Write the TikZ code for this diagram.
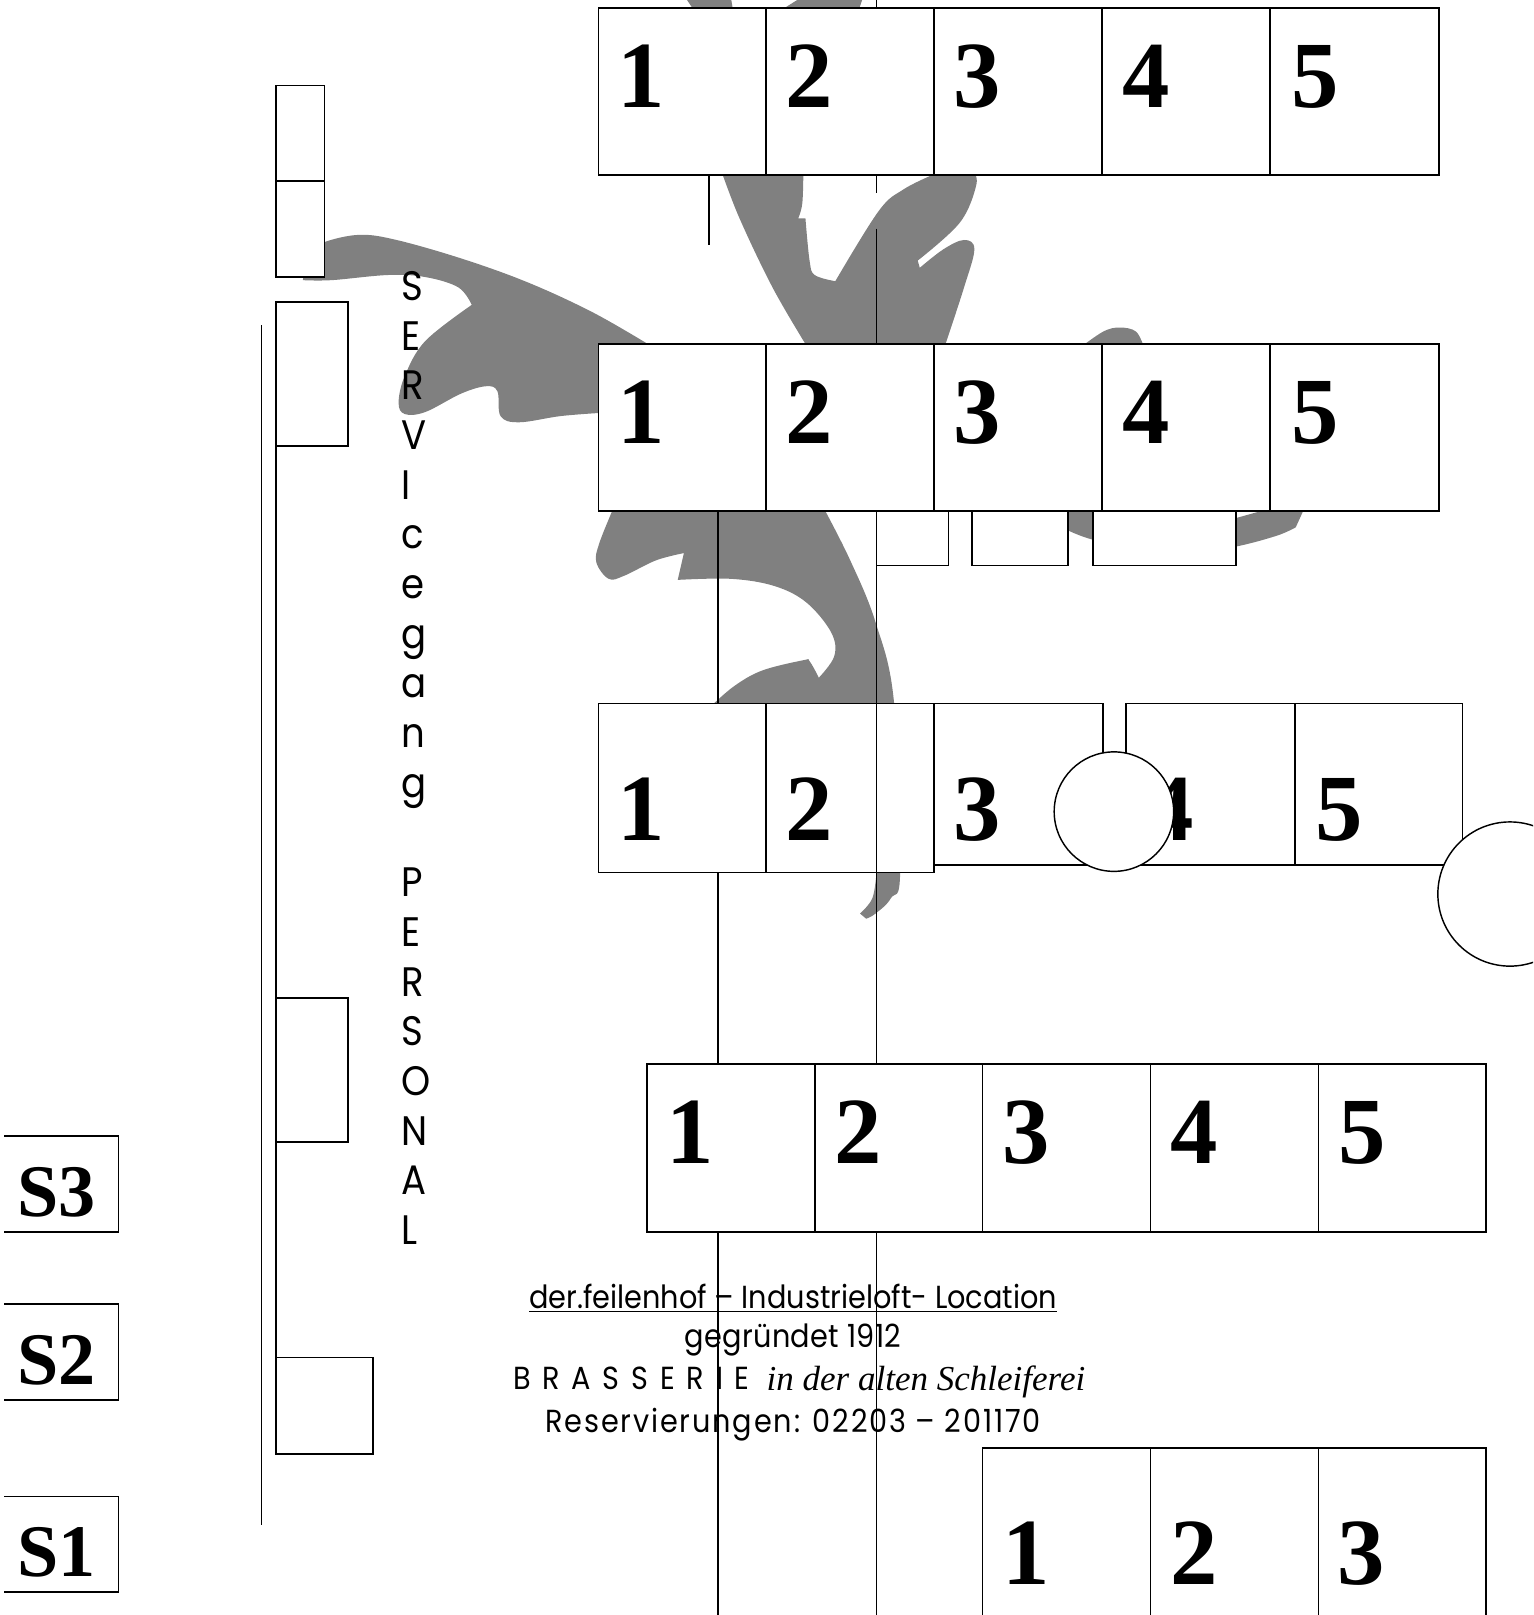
\documentclass[tikz,border=0pt]{standalone}
\usepackage{fontspec}
\setmainfont{Liberation Serif}
\newfontfamily\fut[FakeStretch=0.9]{Poppins}
\tikzset{
  cellbox/.style={draw=black,fill=white,line width=0.85pt,inner sep=0pt,outer sep=0pt},
  openbox/.style={fill=white,inner sep=0pt,outer sep=0pt},
  digitlabel/.style={anchor=base,inner sep=0pt,font=\fontsize{46}{46}\selectfont\bfseries},
  slabel/.style={anchor=base,inner sep=0pt,font=\fontsize{36}{36}\selectfont\bfseries},
  rule/.style={line width=0.85pt,draw=black},
  leaf/.style={fill=black!50!white,draw=none},
  roundel/.style={circle,draw=black,fill=white,line width=0.7pt,inner sep=0pt,outer sep=0pt},
  txt/.style={anchor=base,inner sep=0pt,font=\fut\fontsize{15.5}{18}\selectfont}
}
\newcommand{\cellbox}[5]{\node[cellbox,minimum width={0.5pt*(#4-#2)},minimum height={0.5pt*(#5-#3)}] (#1) at ({(#2+#4)/2},{(#3+#5)/2}) {};}
\newcommand{\digitlab}[4]{\node[digitlabel] (#1) at (#2+1,#3) {#4};}
\begin{document}
\begin{tikzpicture}[x=0.5pt,y=-0.5pt]
\useasboundingbox (0,0) rectangle (1488.4,1568);
\clip (0,0) rectangle (1488.4,1568);
% ornament
\fill[leaf] plot[smooth,tension=0.6] coordinates {(300,245) (315,235) (349,228) (385,233) (448,251) (512,274) (575,303) (629,334)} -- (640,402)
 -- plot[smooth,tension=0.6] coordinates {(581,401) (544,404) (504,410) (486,404) (483,380) (472,375) (448,382) (413,400) (393,402) (387,391) (393,365) (413,331) (458,296)}
 -- plot[smooth,tension=0.6] coordinates {(458,296) (445,279) (413,269) (377,267) (322,272) (294,272)} -- cycle;
\fill[leaf] plot[smooth,tension=0.6] coordinates {(700,165) (718,212) (750,279) (782,334)} -- (800,345) -- (920,345)
 -- plot[smooth,tension=0.6] coordinates {(918,334) (936,279) (946,242) (936,233) (916,242) (893,260)}
 -- plot[smooth,tension=0.6] coordinates {(891,253) (932,216) (948,179) (944,165)} -- (905,165)
 -- plot[smooth,tension=0.6] coordinates {(905,170) (877,184) (853,205) (811,273)}
 -- plot[smooth,tension=0.6] coordinates {(811,273) (791,267) (786,253) (782,212)} -- (775,212)
 -- plot[smooth,tension=0.6] coordinates {(775,212) (779,197) (780,165)} -- cycle;
\fill[leaf] (667,0) -- (675,12) -- (712,12) -- (710,0) -- cycle;
\fill[leaf] (774,0) -- (755,12) -- (833,12) -- (837,0) -- cycle;
\fill[leaf] plot[smooth,tension=0.6] coordinates {(1048,338) (1071,322) (1087,318) (1103,322) (1111,338)} -- cycle;
\fill[leaf] (1037,490) -- (1037,515) -- plot[smooth,tension=0.5] coordinates {(1037,515) (1061,524) (1130,540) (1198,531) (1240,520) (1258,512)} -- (1268,490) -- (1225,496) -- (1200,503) -- cycle;
\fill[leaf] plot[smooth,tension=0.6] coordinates {(597,490) (582,527) (579,546) (591,562) (606,559) (637,544) (664,537)} -- (658,563)
 -- plot[smooth,tension=0.6] coordinates {(658,563) (710,562) (752,569) (783,585) (807,614) (810,637) (795,658)}
 -- plot[smooth,tension=0.6] coordinates {(795,658) (786,642) (780,641) (740,651) (713,666) (691,685)}
 -- (851,700) -- (851,847) -- plot[smooth,tension=0.6] coordinates {(851,847) (847,872) (835,887)} -- (841,892)
 -- plot[smooth,tension=0.6] coordinates {(841,892) (850,887) (865,872) (874,845) (868,682) (850,604) (825,543) (798,490)} -- cycle;
% vertical rules (drawn beneath the rows)
\coordinate (vA0) at (851,0); \coordinate (vA1) at (851,8);
\coordinate (vB0) at (851,170); \coordinate (vB1) at (851,187);
\coordinate (vC0) at (851,222); \coordinate (vC1) at (851,334);
\coordinate (vD0) at (688,170); \coordinate (vD1) at (688,238);
\coordinate (vE0) at (697,496); \coordinate (vE1) at (697,1575);
\coordinate (vF0) at (851,496); \coordinate (vF1) at (851,1033);
\coordinate (vF2) at (851,1196); \coordinate (vF3) at (851,1575);
\coordinate (vG0) at (254,316); \coordinate (vG1) at (254,1481);
\coordinate (vH0) at (268,293); \coordinate (vH1) at (268,1412);
\draw[rule] (vA0)--(vA1) (vB0)--(vB1) (vC0)--(vC1) (vD0)--(vD1) (vG0)--(vG1) (vH0)--(vH1);
\draw[rule] (vE0)--(vE1);
% left boxes
\cellbox{l1}{268}{83}{315}{176}
\cellbox{l2}{268}{176}{315}{269}
\cellbox{l3}{268}{293}{338}{433}
\cellbox{l4}{268}{969}{338}{1109}
\cellbox{l5}{268}{1318}{362}{1412}
% S boxes (no left side)
\foreach \n/\a/\b/\c in {s3/1103/1196/S3,s2/1266/1359/S2,s1/1453/1546/S1}{
  \node[openbox,minimum width={0.5pt*111},minimum height={0.5pt*93}] (\n) at (59.5,{(\a+\b)/2}) {};
  \draw[rule] (\n.north west) -- (\n.north east) -- (\n.south east) -- (\n.south west);
  \node[slabel] (t\n) at (55,\b-15) {\c};
}
% rows A, B
\foreach \r/\a/\b/\bl in {a/8/170/104,b/334/496/431}{
  \foreach \i/\p/\q/\m in {1/581/744/622,2/744/907/785,3/907/1070/948,4/1070/1233/1112,5/1233/1397/1276}{
    \cellbox{\r\i}{\p}{\a}{\q}{\b}
    \digitlab{d\r\i}{\m}{\bl}{\i}
  }
}
% small boxes below row B
\cellbox{m1}{851}{496}{921}{549}
\cellbox{m2}{944}{496}{1037}{549}
\cellbox{m3}{1061}{496}{1200}{549}
% row C
\foreach \i/\p/\q/\m/\y in {3/907/1071/948/840,4/1093/1257/1135/840,5/1257/1420/1299/840,1/581/744/622/847,2/744/907/785/847}{
  \cellbox{c\i}{\p}{683}{\q}{\y}
  \digitlab{dc\i}{\m}{816}{\i}
}
% circles
\node[roundel,minimum size=58pt] (k1) at (1081.5,788) {};
\node[roundel,minimum size=70pt] (k2) at (1466,868) {};
\draw[rule] (vF0)--(vF1) (vF2)--(vF3);
% row D
\foreach \i/\p/\q/\m in {1/628/791/669,2/791/954/832,3/954/1117/995,4/1117/1280/1158,5/1280/1443/1322}{
  \cellbox{e\i}{\p}{1033}{\q}{1196}
  \digitlab{de\i}{\m}{1130}{\i}
}
% row E
\foreach \i/\p/\q/\m in {1/954/1117/995,2/1117/1280/1158,3/1280/1443/1321}{
  \cellbox{f\i}{\p}{1406}{\q}{1580}
  \digitlab{df\i}{\m}{1538}{\i}
}
% vertical text
\node[anchor=north west,inner sep=0pt,align=left,font=\fut\fontsize{20}{24.125}\selectfont] (svc) at (389,263)
 {S\\E\\R\\V\\I\\c\\e\\g\\a\\n\\g\\ \\P\\E\\R\\S\\O\\N\\A\\L};
% caption
\node[txt] (cap1) at (770,1270) {\underline{der.feilenhof – Industrieloft- Location}};
\node[txt] (cap2) at (770,1308) {\addfontfeature{LetterSpace=1}gegründet 1912};
\node[txt] (cap3) at (613,1349) {\addfontfeature{LetterSpace=37}BRASSERIE};
\node[anchor=base,inner sep=0pt,font=\rmfamily\itshape\fontsize{17}{18}\selectfont] (cap3b) at (899,1350) {in der alten Schleiferei};
\node[txt] (cap4) at (770,1391) {\addfontfeature{LetterSpace=5.8}Reservierungen: 02203 – 201170};
\end{tikzpicture}
\end{document}
